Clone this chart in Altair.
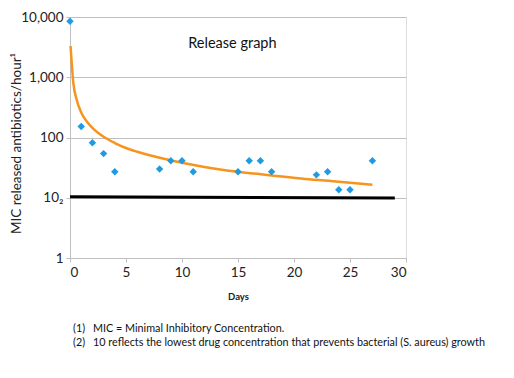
import altair as alt
import pandas as pd

# Measured release (diamonds)
days = [0, 1, 2, 3, 4, 8, 9, 10, 11, 15, 16, 17, 18, 22, 23, 24, 25, 27]
released = [8500, 152, 82, 54, 27, 30, 41, 41, 27, 27, 41, 41, 27, 24, 27, 13.6, 13.6, 41]

# Trend curve (orange)
trend_days = [0.05, 0.3, 0.6, 1, 1.5, 2, 3, 4, 5, 6, 8, 10, 12, 15, 18, 21, 24, 27]
trend_values = [3300, 800, 420, 260, 185, 145, 103, 81, 67, 58, 46, 38, 32.5, 27, 23.5, 20.5, 18.5, 16.5]

# MIC reference line (black)
mic_days = [0, 29]
mic_values = [10.4, 9.9]

y_ticks = [1, 10, 100, 1000, 10000]
x_ticks = [0, 5, 10, 15, 20, 25, 30]

FONT = "Lato"

pts = pd.DataFrame({"day": days, "value": released})
trend = pd.DataFrame({"day": trend_days, "value": trend_values})
mic = pd.DataFrame({"day": mic_days, "value": mic_values})

x_enc = alt.X(
    "day:Q",
    scale=alt.Scale(domain=[0, 30], nice=False),
    axis=alt.Axis(
        values=x_ticks, grid=False, title="Days", titleFontWeight="bold",
        titleFontSize=9.5, titlePadding=13, labelFontSize=13.5, labelPadding=3,
        domainColor="#BFBFBF", tickColor="#BFBFBF", tickSize=4,
        labelColor="#222222", titleColor="#222222", labelFont=FONT, titleFont=FONT,
    ),
)
y_enc = alt.Y(
    "value:Q",
    scale=alt.Scale(type="log", domain=[1, 10000], nice=False),
    axis=alt.Axis(
        values=y_ticks,
        labelExpr="datum.value == 10 ? '10\u2082' : format(datum.value, ',')",
        title="MIC released antibiotics/hour\u00b9", titleFontSize=13.5,
        titleFontWeight="normal", titleX=-54, titleY=126, titleAngle=-90,
        titleAlign="center", titleBaseline="middle", labelFontSize=13.5,
        labelPadding=3, gridColor="#BFBFBF", gridWidth=1.2,
        domainColor="#BFBFBF", tickColor="#BFBFBF", tickSize=4,
        labelColor="#222222", titleColor="#222222", labelFont=FONT, titleFont=FONT,
    ),
)

mic_line = alt.Chart(mic).mark_line(color="black", strokeWidth=3).encode(x=x_enc, y=y_enc)
trend_line = alt.Chart(trend).mark_line(color="#F7941D", strokeWidth=2.5, interpolate="monotone").encode(x="day:Q", y="value:Q")
points = alt.Chart(pts).mark_point(shape="diamond", filled=True, size=55, color="#1F9BE3", opacity=1).encode(x="day:Q", y="value:Q")

title_txt = alt.Chart(pd.DataFrame({"day": [14.5], "value": [3550], "t": ["Release graph"]})).mark_text(
    font=FONT, fontSize=14.5, color="#111111", align="center", baseline="middle"
).encode(x="day:Q", y="value:Q", text="t:N")

notes_num = ["(1)", "(2)"]
notes_text = [
    "MIC = Minimal Inhibitory Concentration.",
    "10 reflects the lowest drug concentration that prevents bacterial (S. aureus) growth",
]
NS = 10.8
n1 = alt.Chart(pd.DataFrame({"t": [notes_num[0]]})).mark_text(font=FONT, fontSize=NS, align="left", baseline="middle", color="#111111").encode(
    x=alt.value(3), y=alt.value(312), text="t:N")
n2 = alt.Chart(pd.DataFrame({"t": [notes_num[1]]})).mark_text(font=FONT, fontSize=NS, align="left", baseline="middle", color="#111111").encode(
    x=alt.value(3), y=alt.value(326), text="t:N")
t1 = alt.Chart(pd.DataFrame({"t": [notes_text[0]]})).mark_text(font=FONT, fontSize=NS, align="left", baseline="middle", color="#111111").encode(
    x=alt.value(23), y=alt.value(312), text="t:N")
t2 = alt.Chart(pd.DataFrame({"t": [notes_text[1]]})).mark_text(font=FONT, fontSize=NS, align="left", baseline="middle", color="#111111").encode(
    x=alt.value(23), y=alt.value(326), text="t:N")

chart = alt.layer(mic_line, trend_line, points, title_txt, n1, n2, t1, t2).properties(
    width=336, height=241,
    autosize=alt.AutoSizeParams(type="none"),
    padding={"left": 62, "top": 9, "right": 100, "bottom": 110},
).configure_view(stroke=None).configure(background="white")

chart.save("out.html", embed_options={"renderer": "svg", "actions": False})
